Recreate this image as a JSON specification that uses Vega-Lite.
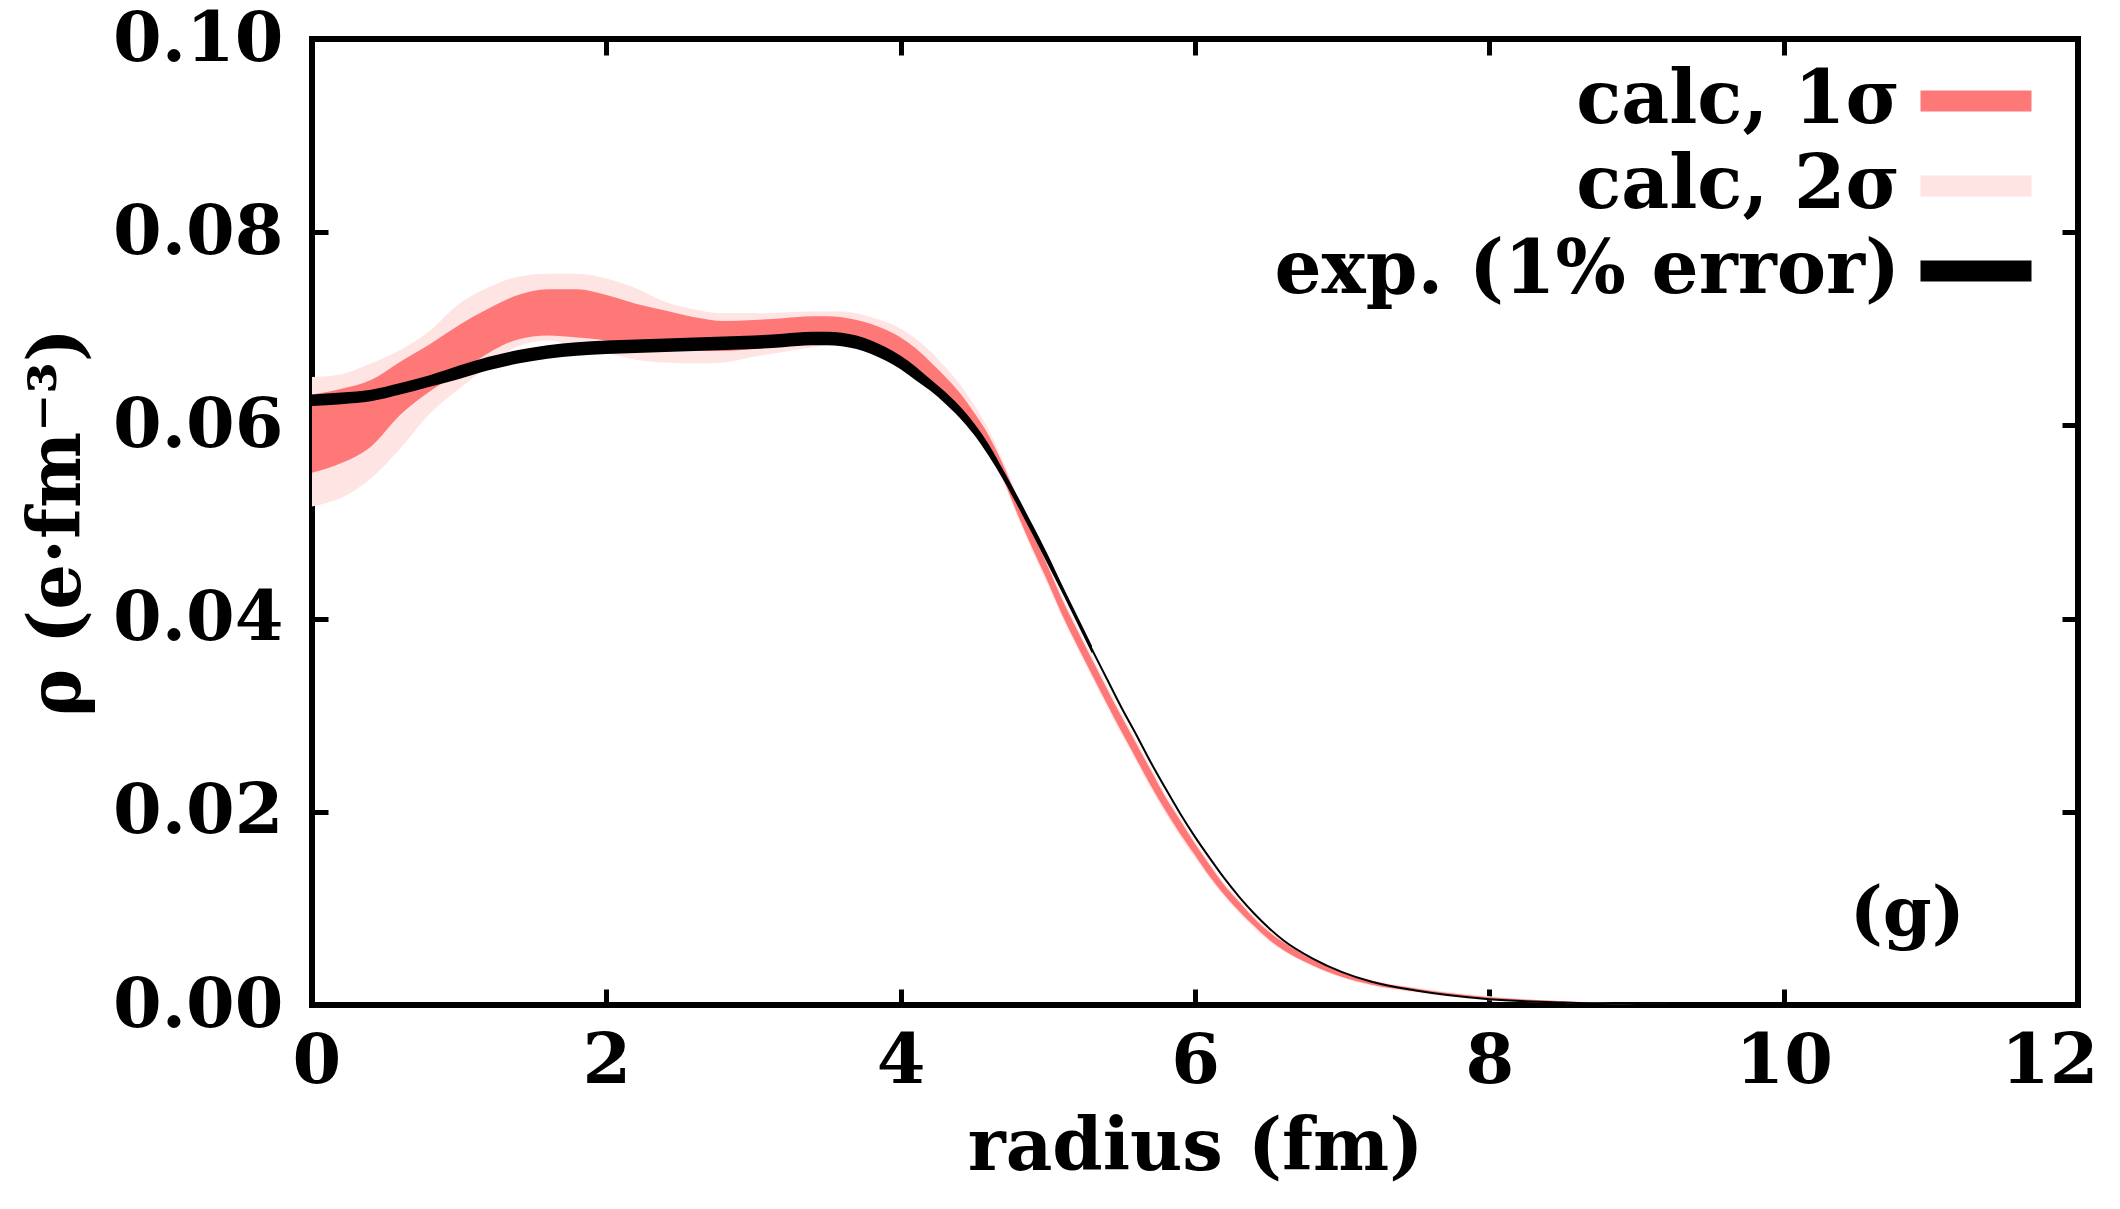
{
  "$schema": "https://vega.github.io/schema/vega-lite/v6.json",
  "autosize": {"type": "none"},
  "padding": {"left": 312, "top": 39, "right": 42, "bottom": 204},
  "width": 1766,
  "height": 966,
  "background": "white",
  "config": {
    "view": {"stroke": "black", "strokeWidth": 6},
    "font": "DejaVu Serif",
    "axis": {
      "domain": false, "grid": false,
      "tickColor": "black", "tickWidth": 5, "tickSize": -16,
      "labelFont": "DejaVu Serif", "labelFontWeight": "bold", "labelFontSize": 70, "labelColor": "black",
      "labelFlush": false, "labelOverlap": false, "labelBound": false,
      "titleFont": "DejaVu Serif", "titleFontWeight": "bold", "titleFontSize": 72, "titleColor": "black"
    }
  },
  "datasets": {
    "d": [
      {"r": 0.0, "exp": 0.0626, "elo": 0.0620, "ehi": 0.0632, "c1lo": 0.0551, "c1hi": 0.0632, "c2lo": 0.0516, "c2hi": 0.0650},
      {"r": 0.2, "exp": 0.0628, "elo": 0.0622, "ehi": 0.0634, "c1lo": 0.0561, "c1hi": 0.0638, "c2lo": 0.0525, "c2hi": 0.0653},
      {"r": 0.4, "exp": 0.0631, "elo": 0.0625, "ehi": 0.0637, "c1lo": 0.0578, "c1hi": 0.0647, "c2lo": 0.0545, "c2hi": 0.0664},
      {"r": 0.6, "exp": 0.0638, "elo": 0.0632, "ehi": 0.0644, "c1lo": 0.0611, "c1hi": 0.0666, "c2lo": 0.0576, "c2hi": 0.0678},
      {"r": 0.8, "exp": 0.0646, "elo": 0.0640, "ehi": 0.0652, "c1lo": 0.0635, "c1hi": 0.0684, "c2lo": 0.0612, "c2hi": 0.0698},
      {"r": 1.0, "exp": 0.0655, "elo": 0.0648, "ehi": 0.0662, "c1lo": 0.0655, "c1hi": 0.0704, "c2lo": 0.0638, "c2hi": 0.0726},
      {"r": 1.2, "exp": 0.0664, "elo": 0.0657, "ehi": 0.0671, "c1lo": 0.0675, "c1hi": 0.0721, "c2lo": 0.0661, "c2hi": 0.0743},
      {"r": 1.4, "exp": 0.0671, "elo": 0.0664, "ehi": 0.0678, "c1lo": 0.0689, "c1hi": 0.0735, "c2lo": 0.0682, "c2hi": 0.0754},
      {"r": 1.6, "exp": 0.0676, "elo": 0.0669, "ehi": 0.0683, "c1lo": 0.0693, "c1hi": 0.0741, "c2lo": 0.0688, "c2hi": 0.0757},
      {"r": 1.8, "exp": 0.0679, "elo": 0.0672, "ehi": 0.0686, "c1lo": 0.0691, "c1hi": 0.0741, "c2lo": 0.0682, "c2hi": 0.0757},
      {"r": 2.0, "exp": 0.0681, "elo": 0.0674, "ehi": 0.0688, "c1lo": 0.0688, "c1hi": 0.0735, "c2lo": 0.0675, "c2hi": 0.0752},
      {"r": 2.2, "exp": 0.0682, "elo": 0.0675, "ehi": 0.0689, "c1lo": 0.0682, "c1hi": 0.0726, "c2lo": 0.0668, "c2hi": 0.0742},
      {"r": 2.4, "exp": 0.0683, "elo": 0.0676, "ehi": 0.0690, "c1lo": 0.0678, "c1hi": 0.0719, "c2lo": 0.0665, "c2hi": 0.0728},
      {"r": 2.6, "exp": 0.0684, "elo": 0.0677, "ehi": 0.0691, "c1lo": 0.0677, "c1hi": 0.0712, "c2lo": 0.0664, "c2hi": 0.0720},
      {"r": 2.8, "exp": 0.0685, "elo": 0.0678, "ehi": 0.0692, "c1lo": 0.0677, "c1hi": 0.0708, "c2lo": 0.0665, "c2hi": 0.0716},
      {"r": 3.0, "exp": 0.0686, "elo": 0.0679, "ehi": 0.0693, "c1lo": 0.0679, "c1hi": 0.0709, "c2lo": 0.0671, "c2hi": 0.0716},
      {"r": 3.2, "exp": 0.0688, "elo": 0.0681, "ehi": 0.0695, "c1lo": 0.0683, "c1hi": 0.0711, "c2lo": 0.0676, "c2hi": 0.0717},
      {"r": 3.4, "exp": 0.0690, "elo": 0.0683, "ehi": 0.0697, "c1lo": 0.0688, "c1hi": 0.0713, "c2lo": 0.0681, "c2hi": 0.0718},
      {"r": 3.5, "exp": 0.0690, "elo": 0.0683, "ehi": 0.0697, "c1lo": 0.0689, "c1hi": 0.0713, "c2lo": 0.0683, "c2hi": 0.0718},
      {"r": 3.6, "exp": 0.0689, "elo": 0.0682, "ehi": 0.0696, "c1lo": 0.0690, "c1hi": 0.0712, "c2lo": 0.0685, "c2hi": 0.0718},
      {"r": 3.7, "exp": 0.0686, "elo": 0.0679, "ehi": 0.0693, "c1lo": 0.0688, "c1hi": 0.0709, "c2lo": 0.0683, "c2hi": 0.0716},
      {"r": 3.8, "exp": 0.0681, "elo": 0.0674, "ehi": 0.0688, "c1lo": 0.0684, "c1hi": 0.0705, "c2lo": 0.0680, "c2hi": 0.0712},
      {"r": 3.9, "exp": 0.0674, "elo": 0.0667, "ehi": 0.0681, "c1lo": 0.0678, "c1hi": 0.0699, "c2lo": 0.0675, "c2hi": 0.0707},
      {"r": 4.0, "exp": 0.0665, "elo": 0.0658, "ehi": 0.0672, "c1lo": 0.0670, "c1hi": 0.0691, "c2lo": 0.0667, "c2hi": 0.0700},
      {"r": 4.1, "exp": 0.0654, "elo": 0.0647, "ehi": 0.0661, "c1lo": 0.0660, "c1hi": 0.0680, "c2lo": 0.0657, "c2hi": 0.0690},
      {"r": 4.2, "exp": 0.0642, "elo": 0.0636, "ehi": 0.0648, "c1lo": 0.0647, "c1hi": 0.0666, "c2lo": 0.0644, "c2hi": 0.0677},
      {"r": 4.3, "exp": 0.0629, "elo": 0.0623, "ehi": 0.0635, "c1lo": 0.0633, "c1hi": 0.0651, "c2lo": 0.0630, "c2hi": 0.0661},
      {"r": 4.4, "exp": 0.0614, "elo": 0.0608, "ehi": 0.0620, "c1lo": 0.0617, "c1hi": 0.0634, "c2lo": 0.0614, "c2hi": 0.0643},
      {"r": 4.5, "exp": 0.0596, "elo": 0.0590, "ehi": 0.0602, "c1lo": 0.0597, "c1hi": 0.0613, "c2lo": 0.0594, "c2hi": 0.0621},
      {"r": 4.6, "exp": 0.0574, "elo": 0.0568, "ehi": 0.0580, "c1lo": 0.0574, "c1hi": 0.0589, "c2lo": 0.0571, "c2hi": 0.0595},
      {"r": 4.7, "exp": 0.0548, "elo": 0.0543, "ehi": 0.0553, "c1lo": 0.0543, "c1hi": 0.0558, "c2lo": 0.0540, "c2hi": 0.0562},
      {"r": 4.8, "exp": 0.0520, "elo": 0.0515, "ehi": 0.0525, "c1lo": 0.0506, "c1hi": 0.0522, "c2lo": 0.0503, "c2hi": 0.0525},
      {"r": 4.9, "exp": 0.0491, "elo": 0.0486, "ehi": 0.0496, "c1lo": 0.0471, "c1hi": 0.0487, "c2lo": 0.0468, "c2hi": 0.0490},
      {"r": 5.0, "exp": 0.0461, "elo": 0.0456, "ehi": 0.0466, "c1lo": 0.0438, "c1hi": 0.0454, "c2lo": 0.0435, "c2hi": 0.0457},
      {"r": 5.1, "exp": 0.0430, "elo": 0.0426, "ehi": 0.0434, "c1lo": 0.0403, "c1hi": 0.0419, "c2lo": 0.0400, "c2hi": 0.0422},
      {"r": 5.2, "exp": 0.0399, "elo": 0.0395, "ehi": 0.0403, "c1lo": 0.0372, "c1hi": 0.0388, "c2lo": 0.0369, "c2hi": 0.0391},
      {"r": 5.3, "exp": 0.0368, "elo": 0.0364, "ehi": 0.0372, "c1lo": 0.0342, "c1hi": 0.0358, "c2lo": 0.0339, "c2hi": 0.0361},
      {"r": 5.4, "exp": 0.0338, "c1lo": 0.0312, "c1hi": 0.0328, "c2lo": 0.0309, "c2hi": 0.0331},
      {"r": 5.5, "exp": 0.0308, "c1lo": 0.0283, "c1hi": 0.0299, "c2lo": 0.0280, "c2hi": 0.0302},
      {"r": 5.6, "exp": 0.0280, "c1lo": 0.0255, "c1hi": 0.0271, "c2lo": 0.0252, "c2hi": 0.0274},
      {"r": 5.7, "exp": 0.0251, "c1lo": 0.0227, "c1hi": 0.0243, "c2lo": 0.0224, "c2hi": 0.0246},
      {"r": 5.8, "exp": 0.0224, "c1lo": 0.0201, "c1hi": 0.0215, "c2lo": 0.0198, "c2hi": 0.0218},
      {"r": 5.9, "exp": 0.0198, "c1lo": 0.0177, "c1hi": 0.0191, "c2lo": 0.0174, "c2hi": 0.0194},
      {"r": 6.0, "exp": 0.0174, "c1lo": 0.0155, "c1hi": 0.0167, "c2lo": 0.0152, "c2hi": 0.0170},
      {"r": 6.1, "exp": 0.0152, "c1lo": 0.0133, "c1hi": 0.0145, "c2lo": 0.0131, "c2hi": 0.0147},
      {"r": 6.2, "exp": 0.0131, "c1lo": 0.0114, "c1hi": 0.0124, "c2lo": 0.0112, "c2hi": 0.0126},
      {"r": 6.3, "exp": 0.0112, "c1lo": 0.0097, "c1hi": 0.0107, "c2lo": 0.0095, "c2hi": 0.0109},
      {"r": 6.4, "exp": 0.0095, "c1lo": 0.0082, "c1hi": 0.0090, "c2lo": 0.0080, "c2hi": 0.0092},
      {"r": 6.5, "exp": 0.0080, "c1lo": 0.0068, "c1hi": 0.0076, "c2lo": 0.0066, "c2hi": 0.0078},
      {"r": 6.6, "exp": 0.0067, "c1lo": 0.0057, "c1hi": 0.0065, "c2lo": 0.0056, "c2hi": 0.0066},
      {"r": 6.8, "exp": 0.0048, "c1lo": 0.0041, "c1hi": 0.0047, "c2lo": 0.0040, "c2hi": 0.0048},
      {"r": 7.0, "exp": 0.0034, "c1lo": 0.0029, "c1hi": 0.0034, "c2lo": 0.0028, "c2hi": 0.0035},
      {"r": 7.2, "exp": 0.0024, "c1lo": 0.0021, "c1hi": 0.0025, "c2lo": 0.0020, "c2hi": 0.0026},
      {"r": 7.5, "exp": 0.0015, "c1lo": 0.0014, "c1hi": 0.0017, "c2lo": 0.0013, "c2hi": 0.0018},
      {"r": 8.0, "exp": 0.0006, "c1lo": 0.0006, "c1hi": 0.0008, "c2lo": 0.0005, "c2hi": 0.0009},
      {"r": 8.5, "exp": 0.00025, "c1lo": 0.0002, "c1hi": 0.0004, "c2lo": 0.0002, "c2hi": 0.0004},
      {"r": 9.0, "exp": 0.0001, "c1lo": 0.00005, "c1hi": 0.00015, "c2lo": 0.00005, "c2hi": 0.00015},
      {"r": 10.0, "exp": 0.0, "c1lo": 0.0, "c1hi": 0.0, "c2lo": 0.0, "c2hi": 0.0},
      {"r": 12.0, "exp": 0.0, "c1lo": 0.0, "c1hi": 0.0, "c2lo": 0.0, "c2hi": 0.0}
    ],
    "ann": [{"r": 10.84, "v": 0.0093, "label": "(g)"}]
  },
  "layer": [
    {
      "data": {"name": "d"},
      "mark": {"type": "area", "interpolate": "monotone", "opacity": 1},
      "encoding": {
        "x": {"field": "r", "type": "quantitative", "scale": {"domain": [0, 12], "nice": false},
              "axis": {"orient": "bottom", "values": [0, 2, 4, 6, 8, 10, 12], "format": "d", "labelPadding": 38, "labelFlush": true, "labelFlushOffset": 20, "title": "radius (fm)", "titlePadding": 16}},
        "y": {"field": "c2lo", "type": "quantitative", "scale": {"domain": [0, 0.1], "nice": false, "zero": false},
              "axis": {"orient": "left", "values": [0, 0.02, 0.04, 0.06, 0.08, 0.1], "format": ".2f", "labelPadding": 45, "title": "ρ (e·fm⁻³)", "titlePadding": 18}},
        "y2": {"field": "c2hi"},
        "color": {
          "datum": "calc, 2σ", "type": "nominal",
          "scale": {"domain": ["calc, 1σ", "calc, 2σ", "exp. (1% error)"], "range": ["#FF7878", "#FFE4E4", "#000000"]},
          "legend": {
            "orient": "none", "legendX": 1627, "legendY": 25, "title": null,
            "symbolType": "M-2,-0.378H2V0.378H-2Z", "symbolSize": 3080, "symbolStrokeWidth": 0,
            "labelAlign": "right", "labelOffset": -113, "labelFont": "DejaVu Serif", "labelFontWeight": "bold",
            "labelFontSize": 74, "labelColor": "black", "labelLimit": 2000, "rowPadding": 11, "padding": 0,
            "encode": {"symbols": {"update": {"fill": {"scale": "color", "field": "value"}, "stroke": {"value": "transparent"}, "opacity": {"value": 1}}}}
          }
        }
      }
    },
    {
      "data": {"name": "d"},
      "mark": {"type": "area", "interpolate": "monotone", "opacity": 1},
      "encoding": {
        "x": {"field": "r", "type": "quantitative", "axis": null},
        "y": {"field": "c1lo", "type": "quantitative", "axis": null},
        "y2": {"field": "c1hi"},
        "color": {"datum": "calc, 1σ", "type": "nominal"}
      }
    },
    {
      "data": {"name": "d"},
      "mark": {"type": "area", "interpolate": "monotone", "opacity": 1},
      "encoding": {
        "x": {"field": "r", "type": "quantitative", "axis": null},
        "y": {"field": "elo", "type": "quantitative", "axis": null},
        "y2": {"field": "ehi"},
        "color": {"datum": "exp. (1% error)", "type": "nominal"}
      }
    },
    {
      "data": {"name": "d"},
      "mark": {"type": "line", "interpolate": "monotone", "strokeWidth": 2},
      "encoding": {
        "x": {"field": "r", "type": "quantitative", "axis": null},
        "y": {"field": "exp", "type": "quantitative", "axis": null},
        "color": {"datum": "exp. (1% error)", "type": "nominal"}
      }
    },
    {
      "data": {"name": "ann"},
      "mark": {"type": "text", "font": "DejaVu Serif", "fontWeight": "bold", "fontSize": 70, "align": "center", "baseline": "middle", "color": "black"},
      "encoding": {
        "x": {"field": "r", "type": "quantitative",
              "axis": {"orient": "top", "values": [0, 2, 4, 6, 8, 10, 12], "labels": false, "title": null}},
        "y": {"field": "v", "type": "quantitative",
              "axis": {"orient": "right", "values": [0, 0.02, 0.04, 0.06, 0.08, 0.1], "labels": false, "title": null}},
        "text": {"field": "label"}
      }
    }
  ],
  "resolve": {"axis": {"x": "independent", "y": "independent"}}
}
